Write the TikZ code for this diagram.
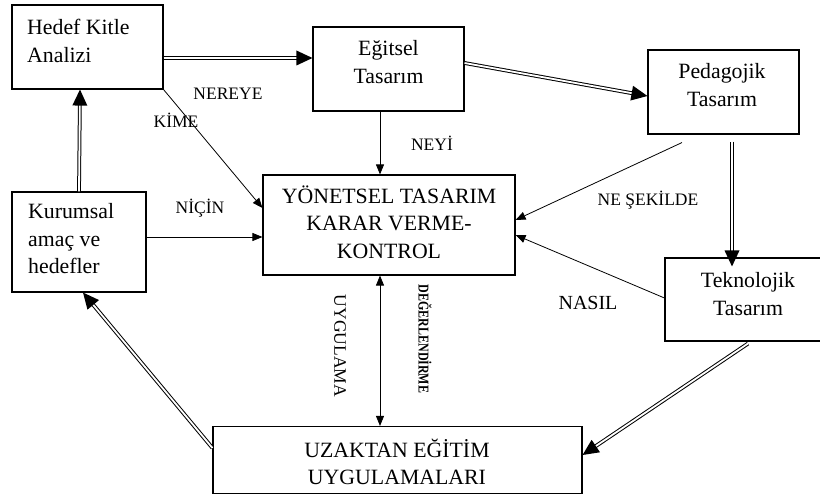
\documentclass[tikz,border=0pt]{standalone}
\usepackage{fontspec}
\setmainfont{Liberation Serif}
\usetikzlibrary{arrows.meta,calc}
\newcommand\dblarrow[2]{%
  \coordinate (dbA) at #1;
  \coordinate (dbB) at #2;
  \coordinate (dbC) at ($(dbB)!16pt!(dbA)$);
  \coordinate (dbD) at ($(dbB)!13pt!(dbA)$);
  \draw[dblline] (dbA) -- (dbD);
  \fill[black] (dbB) -- ($(dbC)!7.5pt!90:(dbB)$) -- ($(dbC)!7.5pt!-90:(dbB)$) -- cycle;}
\begin{document}
\begin{tikzpicture}[x=1pt,y=-1pt,
  box/.style={draw=black, line width=1.1pt, inner sep=0pt},
  txt/.style={font=\fontsize{21.8}{27.5}\selectfont, inner sep=0pt},
  lab/.style={font=\fontsize{17.5}{20}\selectfont, inner sep=0pt},
  arr/.style={line width=0.8pt, -{Triangle[length=10pt,width=8pt]}},
  arrtwo/.style={line width=0.8pt, {Triangle[length=10pt,width=8pt]}-{Triangle[length=10pt,width=8pt]}},
  dblline/.style={double=white, double distance=1.8pt, line width=1pt}]
\useasboundingbox (0,0) rectangle (820,497);
\clip (0,0) rectangle (820,497);

% boxes
\node[box, minimum width=151pt, minimum height=84pt] (hedef) at (87.5,47) {};
\node[box, minimum width=151pt, minimum height=84pt] (eg) at (388.5,69) {};
\node[box, minimum width=151pt, minimum height=84pt] (ped) at (723.5,92) {};
\node[box, minimum width=134pt, minimum height=100pt] (kur) at (79,242) {};
\node[box, minimum width=252pt, minimum height=100pt] (yon) at (389,225) {};
\node[box, minimum width=166pt, minimum height=83pt] (tek) at (748,299.5) {};
\node[box, minimum width=369pt, minimum height=67pt] (uz) at (397.5,460) {};

% box texts
\node[txt, anchor=west, align=left] (hedeft) at (27,41) {Hedef Kitle\\Analizi};
\node[txt, align=center] (egt) at (388.5,62) {Eğitsel\\Tasarım};
\node[txt, align=center] (pedt) at (722,85) {Pedagojik\\Tasarım};
\node[txt, anchor=west, align=left] (kurt) at (28,239) {Kurumsal\\amaç ve\\hedefler};
\node[txt, align=center] (yont) at (389,222) {YÖNETSEL TASARIM\\KARAR VERME-\\KONTROL};
\node[txt, align=center] (tekt) at (748,294) {Teknolojik\\Tasarım};
\node[txt, align=center] (uzt) at (397,462) {UZAKTAN EĞİTİM\\UYGULAMALARI};

% double arrows
\dblarrow{([yshift=-11pt]hedef.east)}{([yshift=11pt]eg.west)}
\dblarrow{([yshift=6pt]eg.east)}{([yshift=-4pt]ped.west)}
\dblarrow{([xshift=8.5pt,yshift=-7pt]ped.south)}{([xshift=-16pt,yshift=-9pt]tek.north)}
\dblarrow{([yshift=-2pt]tek.south)}{([yshift=5pt]uz.east)}
\dblarrow{([yshift=12pt]uz.west)}{([xshift=4pt]kur.south)}
\dblarrow{(kur.north)}{([xshift=-7.5pt]hedef.south)}

% single arrows
\draw[arr] (hedef.south east) -- ([yshift=17pt]yon.west);
\draw[arr] ([xshift=-8.5pt]eg.south) -- ([xshift=-9pt]yon.north);
\draw[arr] ([yshift=5pt]kur.east) -- ([yshift=-12pt]yon.west);
\draw[arr] ([xshift=-41.5pt,yshift=-8pt]ped.south) -- ([yshift=5pt]yon.east);
\draw[arr] ([yshift=1.5pt]tek.west) -- ([yshift=-10pt]yon.east);
\draw[arrtwo] ([xshift=-9pt]yon.south) -- ([xshift=-17.5pt]uz.north);

% labels
\node[lab] (nereye) at (228,94) {NEREYE};
\node[lab] (kime) at (176,120) {KİME};
\node[lab] (neyi) at (432,143) {NEYİ};
\node[lab] (nicin) at (200,208) {NİÇİN};
\node[lab] (nesekilde) at (648,200) {NE ŞEKİLDE};
\node[lab, font=\fontsize{20}{22}\selectfont] (nasil) at (588,303) {NASIL};
\node[lab, rotate=-90] (uyg) at (340,346) {UYGULAMA};
\node[lab, rotate=-90, font=\fontsize{15}{17}\selectfont\bfseries] (deg) at (425,339) {\scalebox{0.8}[1]{DEĞERLENDİRME}};
\end{tikzpicture}
\end{document}
